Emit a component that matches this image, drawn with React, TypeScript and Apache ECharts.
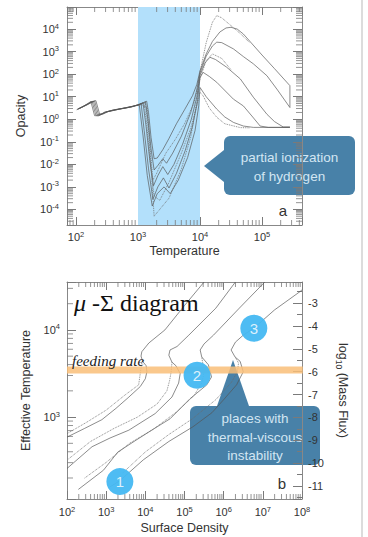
import React, { useEffect, useRef } from 'react';
import * as echarts from 'echarts';

const FONT = '"Liberation Sans", Arial, Helvetica, sans-serif';
const SERIF = '"Liberation Serif", "Times New Roman", serif';

// ---------- Panel a : log10(Temperature), log10(Opacity) ----------
const opacityCurve1 = [
  [2.01, 0.42], [2.1, 0.55], [2.18, 0.68], [2.24, 0.79], [2.3, 0.16], [2.36, 0.15], [2.45, 0.3], [2.6, 0.4], [2.8, 0.5], [3.0, 0.62], [3.08, 0.72], [3.14, 0.8],
  [3.17, 0.3], [3.21, -0.8], [3.26, -1.75], [3.31, -1.72], [3.4, -1.35], [3.5, -0.85], [3.62, -0.2], [3.75, 0.42], [3.88, 1.05], [3.95, 1.55], [4.0, 2.15],
  [4.1, 2.9], [4.2, 3.45], [4.32, 3.87], [4.42, 4.05], [4.5, 4.08], [4.6, 4.0], [4.7, 3.78], [5.0, 2.85], [5.2, 2.25], [5.45, 1.49], [5.45, 0.52],
];
const opacityCurve2 = [
  [2.02, 0.44], [2.12, 0.58], [2.2, 0.7], [2.26, 0.8], [2.32, 0.18], [2.38, 0.17], [2.46, 0.31], [2.6, 0.41], [2.8, 0.51], [3.0, 0.63], [3.08, 0.72], [3.12, 0.78],
  [3.16, 0.0], [3.21, -1.3], [3.26, -2.25], [3.32, -2.05], [3.4, -1.75], [3.46, -1.95], [3.56, -1.5], [3.7, -0.75], [3.85, 0.3], [3.94, 1.2], [4.0, 2.05],
  [4.1, 2.8], [4.2, 3.25], [4.27, 3.42], [4.35, 3.4], [4.54, 3.12], [4.7, 2.78], [4.86, 2.46], [5.08, 1.93], [5.25, 1.3], [5.45, 0.52],
];
const opacityCurve3 = [
  [2.03, 0.45], [2.14, 0.6], [2.22, 0.72], [2.28, 0.81], [2.34, 0.2], [2.4, 0.2], [2.48, 0.32], [2.6, 0.41], [2.8, 0.51], [3.0, 0.63], [3.08, 0.74],
  [3.13, -0.3], [3.19, -1.8], [3.25, -2.95], [3.32, -2.5], [3.4, -2.1], [3.48, -2.45], [3.58, -2.0], [3.72, -1.1], [3.86, 0.0], [3.95, 1.0], [4.0, 1.95],
  [4.08, 2.5], [4.16, 2.75], [4.25, 2.65], [4.43, 2.31], [4.65, 1.79], [4.86, 0.98], [5.08, 0.22], [5.2, -0.1], [5.34, -0.34], [5.45, -0.34],
];
const opacityCurve4 = [
  [2.04, 0.46], [2.16, 0.62], [2.24, 0.74], [2.3, 0.82], [2.36, 0.22], [2.42, 0.22], [2.5, 0.33], [2.7, 0.45], [2.9, 0.55], [3.05, 0.7],
  [3.1, -0.5], [3.17, -2.2], [3.24, -3.55], [3.32, -3.0], [3.41, -2.6], [3.5, -3.05], [3.62, -2.4], [3.76, -1.4], [3.88, -0.3], [3.96, 0.8], [4.0, 1.85],
  [4.05, 2.08], [4.15, 1.9], [4.27, 1.64], [4.54, 0.89], [4.7, 0.59], [4.85, 0.1], [4.97, -0.3], [5.1, -0.36], [5.45, -0.36],
];
const opacityCurve5 = [
  [2.05, 0.47], [2.18, 0.64], [2.26, 0.76], [2.32, 0.83], [2.38, 0.24], [2.44, 0.24], [2.52, 0.34], [2.7, 0.45], [2.9, 0.55], [3.02, 0.66],
  [3.08, -0.7], [3.15, -2.5], [3.23, -3.85], [3.31, -3.3], [3.42, -3.0], [3.52, -3.3], [3.65, -2.7], [3.8, -1.7], [3.92, -0.5], [3.98, 0.6], [4.0, 1.41],
  [4.1, 1.0], [4.27, 0.45], [4.4, 0.1], [4.54, -0.14], [4.7, -0.3], [4.86, -0.36], [5.45, -0.36],
];
const opacityDotted1 = [
  [3.0, 0.6], [3.12, 0.72], [3.17, -0.5], [3.22, -2.5], [3.26, -4.3], [3.35, -4.0], [3.5, -3.5], [3.7, -2.2], [3.85, -0.8], [3.95, 0.8], [4.0, 2.1],
  [4.1, 3.4], [4.2, 4.3], [4.27, 4.6], [4.35, 4.5], [4.48, 4.2], [4.65, 3.8], [4.8, 3.4],
];
const opacityDotted2 = [
  [3.05, 0.65], [3.15, 0.5], [3.19, -1.0], [3.24, -2.7], [3.3, -2.4], [3.45, -1.5], [3.6, -0.9], [3.75, -0.2], [3.9, 0.7], [4.0, 1.8],
  [4.1, 2.6], [4.2, 2.9], [4.35, 2.7], [4.5, 2.2],
];
const opacityDotted3 = [
  [3.1, 0.7], [3.14, -0.2], [3.2, -2.0], [3.26, -3.4], [3.35, -3.6], [3.5, -2.8], [3.7, -1.5], [3.85, -0.4], [3.95, 0.6], [4.0, 1.2],
  [4.05, 1.04], [4.15, 0.5], [4.27, 0.09], [4.4, -0.2], [4.65, -0.37], [4.8, -0.38],
];
const ionizationRange = [3, 4];

// ---------- Panel b : log10(Surface Density), log10(Teff) ----------
const sCurveA = [
  [2.0, 2.77], [2.45, 2.87], [2.89, 2.97], [3.25, 3.1], [3.58, 3.23], [3.87, 3.35], [4.0, 3.44], [4.04, 3.52], [4.02, 3.59], [3.93, 3.64], [3.89, 3.7], [3.91, 3.75],
  [4.09, 3.85], [4.5, 4.0], [5.0, 4.28], [5.5, 4.55],
];
const sCurveADotted = [[2.0, 2.81], [2.5, 2.94], [3.0, 3.08], [3.5, 3.26], [3.83, 3.37], [3.87, 3.5], [3.91, 3.62]];
const sCurveB = [
  [2.0, 2.41], [2.64, 2.66], [3.1, 2.76], [3.58, 2.85], [4.25, 3.04], [4.68, 3.23], [4.85, 3.39], [4.89, 3.5], [4.78, 3.59], [4.68, 3.63], [4.6, 3.71], [4.63, 3.77],
  [4.81, 3.81], [5.11, 3.94], [5.8, 4.25], [6.3, 4.55],
];
const sCurveBDotted = [[2.04, 2.52], [2.6, 2.72], [3.2, 2.87], [3.8, 3.0], [4.3, 3.15], [4.55, 3.3], [4.62, 3.42], [4.66, 3.52], [4.68, 3.63]];
const sCurveC = [
  [2.29, 2.17], [2.93, 2.39], [3.3, 2.6], [3.78, 2.74], [4.2, 2.86], [4.63, 2.98], [5.14, 3.21], [5.57, 3.37], [5.69, 3.46], [5.61, 3.6], [5.44, 3.69], [5.4, 3.77],
  [5.5, 3.84], [5.74, 3.94], [6.4, 4.25], [7.05, 4.55],
];
const sCurveCDotted = [[2.45, 2.3], [3.0, 2.48], [3.6, 2.7], [4.2, 2.86], [4.8, 3.06], [5.25, 3.25], [5.45, 3.4], [5.5, 3.52], [5.44, 3.69]];
const sCurveD = [
  [3.1, 2.2], [3.35, 2.27], [3.95, 2.51], [4.6, 2.72], [5.22, 2.89], [5.7, 3.05], [6.0, 3.2], [6.33, 3.37], [6.5, 3.52], [6.42, 3.64], [6.29, 3.69], [6.19, 3.77],
  [6.3, 3.86], [6.5, 3.94], [6.77, 4.02], [7.3, 4.23], [7.95, 4.44], [8.0, 4.46],
];
const sCurveDDotted = [[3.4, 2.35], [4.0, 2.6], [4.6, 2.8], [5.2, 2.98], [5.8, 3.2], [6.2, 3.4], [6.35, 3.52], [6.38, 3.62], [6.29, 3.69]];
const feedingRateMassFlux = -5.93;
const markerPoints = [[3.35, 2.26, '1'], [5.32, 3.48, '2'], [6.77, 4.02, '3']];

// axis extents (log10 units)
const aX = [1.855, 5.645];
const aY = [-4.69, 4.98];
const bX = [2, 8];
const bY = [2.06, 4.55];
const bFlux = [-11.57, -2.08];

const logMinor = (lo: number, hi: number) => {
  const out: number[] = [];
  for (let n = Math.floor(lo); n <= Math.ceil(hi); n++)
    for (let k = 2; k <= 9; k++) {
      const v = n + Math.log10(k);
      if (v > lo + 0.005 && v < hi - 0.005) out.push(v);
    }
  return out;
};

const TICK = '#7a7a7a';

function tickSeries(xi: number, yi: number, dir: 'x' | 'y', values: number[], anchor: number, len: number, sides: string[]) {
  return {
    type: 'custom',
    xAxisIndex: xi,
    yAxisIndex: yi,
    silent: true,
    z: 2,
    data: values.map((v) => (dir === 'x' ? [v, anchor] : [anchor, v])),
    renderItem: (params: any, api: any) => {
      const cs = params.coordSys;
      const p = api.coord([api.value(0), api.value(1)]);
      const children: any[] = [];
      const st = { stroke: TICK, lineWidth: 0.8 };
      sides.forEach((s) => {
        if (s === 'bottom') children.push({ type: 'line', shape: { x1: p[0], y1: cs.y + cs.height, x2: p[0], y2: cs.y + cs.height - len }, style: st });
        if (s === 'top') children.push({ type: 'line', shape: { x1: p[0], y1: cs.y, x2: p[0], y2: cs.y + len }, style: st });
        if (s === 'left') children.push({ type: 'line', shape: { x1: cs.x, y1: p[1], x2: cs.x + len, y2: p[1] }, style: st });
        if (s === 'right') children.push({ type: 'line', shape: { x1: cs.x + cs.width, y1: p[1], x2: cs.x + cs.width - len, y2: p[1] }, style: st });
      });
      return { type: 'group', children };
    },
  };
}

const isInt = (v: number) => Math.abs(v - Math.round(v)) < 1e-6;
const powLabel = (v: number) => (isInt(v) ? `{b|10}{s|${Math.round(v)}}` : '');
const powRich = {
  b: { fontSize: 11, color: '#333', fontFamily: FONT, lineHeight: 14 },
  s: { fontSize: 7.5, color: '#333', fontFamily: FONT, lineHeight: 6, verticalAlign: 'top' },
};
const axisLine = { show: true, onZero: false, lineStyle: { color: '#888', width: 1 } };
const nameStyle = { fontSize: 12.5, color: '#333', fontFamily: FONT };

function curve(data: number[][], xi: number, yi: number, dotted = false) {
  return {
    type: 'line',
    xAxisIndex: xi,
    yAxisIndex: yi,
    data,
    symbol: 'none',
    silent: true,
    z: 3,
    lineStyle: dotted
      ? { color: '#6a6a6a', width: 0.9, type: 'dotted', opacity: 0.9 }
      : { color: '#555', width: 0.8, opacity: 0.85 },
  };
}

export default function App() {
  const ref = useRef<HTMLDivElement>(null);
  useEffect(() => {
    if (!ref.current) return;
    const chart = echarts.init(ref.current, undefined, { renderer: 'svg' });
    const option: any = {
      animation: false,
      backgroundColor: '#ffffff',
      grid: [
        { left: 67, top: 7, width: 235, height: 218 },
        { left: 67, top: 282, width: 235, height: 217 },
      ],
      xAxis: [
        {
          gridIndex: 0, type: 'value', min: aX[0], max: aX[1], splitNumber: 4, position: 'bottom',
          axisLine, splitLine: { show: false },
          axisTick: { inside: true, length: 8, lineStyle: { color: TICK } },
          axisLabel: { formatter: powLabel, rich: powRich, margin: 5 },
          name: 'Temperature', nameLocation: 'middle', nameGap: 19, nameTextStyle: nameStyle,
        },
        {
          gridIndex: 0, type: 'value', min: aX[0], max: aX[1], splitNumber: 4, position: 'top',
          axisLine, splitLine: { show: false },
          axisTick: { inside: true, length: 8, lineStyle: { color: TICK } },
          axisLabel: { show: false },
        },
        {
          gridIndex: 1, type: 'value', min: bX[0], max: bX[1], interval: 1, position: 'bottom',
          axisLine, splitLine: { show: false },
          axisTick: { inside: true, length: 8, lineStyle: { color: TICK } },
          axisLabel: { formatter: powLabel, rich: powRich, margin: 6 },
          name: 'Surface Density', nameLocation: 'middle', nameGap: 22, nameTextStyle: nameStyle,
        },
        {
          gridIndex: 1, type: 'value', min: bX[0], max: bX[1], interval: 1, position: 'top',
          axisLine, splitLine: { show: false },
          axisTick: { inside: true, length: 8, lineStyle: { color: TICK } },
          axisLabel: { show: false },
        },
      ],
      yAxis: [
        {
          gridIndex: 0, type: 'value', min: aY[0], max: aY[1], splitNumber: 10, position: 'left',
          axisLine, splitLine: { show: false },
          axisTick: { inside: true, length: 9, lineStyle: { color: TICK } },
          axisLabel: { formatter: powLabel, rich: powRich, margin: 8 },
          name: 'Opacity', nameLocation: 'middle', nameGap: 40, nameTextStyle: nameStyle,
        },
        {
          gridIndex: 0, type: 'value', min: aY[0], max: aY[1], splitNumber: 10, position: 'right',
          axisLine, splitLine: { show: false },
          axisTick: { inside: true, length: 9, lineStyle: { color: TICK } },
          axisLabel: { show: false },
        },
        {
          gridIndex: 1, type: 'value', min: bY[0], max: bY[1], splitNumber: 3, position: 'left',
          axisLine, splitLine: { show: false },
          axisTick: { inside: true, length: 9, lineStyle: { color: TICK } },
          axisLabel: { formatter: powLabel, rich: powRich, margin: 7 },
          name: 'Effective Temperature', nameLocation: 'middle', nameGap: 28, nameTextStyle: nameStyle,
        },
        {
          gridIndex: 1, type: 'value', min: bFlux[0], max: bFlux[1], splitNumber: 9, position: 'right',
          axisLine, splitLine: { show: false },
          axisTick: { inside: true, length: 9, lineStyle: { color: TICK } },
          minorTick: { show: true, splitNumber: 2, length: 5, lineStyle: { color: TICK } },
          axisLabel: {
            formatter: (v: number) => (isInt(v) ? String(Math.round(v)) : ''),
            fontSize: 11, color: '#333', fontFamily: FONT, margin: 6,
          },
          name: '{a|log}{b|10}{a| (Mass Flux)}', nameLocation: 'middle', nameGap: 30, nameRotate: -90,
          nameTextStyle: {
            ...nameStyle,
            rich: {
              a: { fontSize: 12.5, color: '#333', fontFamily: FONT, lineHeight: 16 },
              b: { fontSize: 8.5, color: '#333', fontFamily: FONT, lineHeight: 8, verticalAlign: 'bottom' },
            },
          },
        },
      ],
      series: [
        {
          type: 'line', xAxisIndex: 0, yAxisIndex: 0, data: [], silent: true, z: 1,
          markArea: {
            silent: true,
            itemStyle: { color: '#b3e0fb', opacity: 1 },
            data: [[{ xAxis: ionizationRange[0] }, { xAxis: ionizationRange[1] }]],
          },
        },
        tickSeries(0, 0, 'x', logMinor(aX[0], aX[1]), 0, 5, ['bottom', 'top']),
        tickSeries(0, 0, 'y', logMinor(aY[0], aY[1]), 3, 6, ['left', 'right']),
        tickSeries(2, 2, 'x', logMinor(bX[0], bX[1]), 3, 5, ['bottom', 'top']),
        tickSeries(2, 2, 'y', logMinor(bY[0], bY[1]), 3, 6, ['left']),
        curve(opacityCurve1, 0, 0),
        curve(opacityCurve2, 0, 0),
        curve(opacityCurve3, 0, 0),
        curve(opacityCurve4, 0, 0),
        curve(opacityCurve5, 0, 0),
        curve(opacityDotted1, 0, 0, true),
        curve(opacityDotted2, 0, 0, true),
        curve(opacityDotted3, 0, 0, true),
        curve(sCurveA, 2, 2),
        curve(sCurveADotted, 2, 2, true),
        curve(sCurveB, 2, 2),
        curve(sCurveBDotted, 2, 2, true),
        curve(sCurveC, 2, 2),
        curve(sCurveCDotted, 2, 2, true),
        curve(sCurveD, 2, 2),
        curve(sCurveDDotted, 2, 2, true),
        {
          type: 'line', xAxisIndex: 2, yAxisIndex: 3, symbol: 'none', silent: true, z: 5, clip: false,
          data: [[bX[0], feedingRateMassFlux], [bX[1] + 0.02, feedingRateMassFlux]],
          lineStyle: { color: '#f9be78', width: 7, opacity: 0.85 },
        },
        {
          type: 'scatter', xAxisIndex: 2, yAxisIndex: 2, silent: true, z: 7,
          data: markerPoints,
          symbolSize: 27,
          itemStyle: { color: '#45b8f2', opacity: 0.95 },
          label: {
            show: true, position: 'inside', formatter: (p: any) => p.data[2],
            color: '#e6f5fd', fontSize: 15, fontFamily: FONT,
          },
        },
      ],
      graphic: [
        { type: 'line', z: 1, shape: { x1: 362, y1: 0, x2: 362, y2: 537 }, style: { stroke: '#d0d0d0', lineWidth: 1.5 } },
        { type: 'text', z: 8, x: 283, y: 210, style: { text: 'a', fontSize: 15, fill: '#333', fontFamily: FONT, align: 'center', verticalAlign: 'middle', textAlign: 'center', textVerticalAlign: 'middle' } },
        { type: 'text', z: 8, x: 282, y: 483, style: { text: 'b', fontSize: 15, fill: '#333', fontFamily: FONT, align: 'center', verticalAlign: 'middle', textAlign: 'center', textVerticalAlign: 'middle' } },
        {
          type: 'text', z: 8, x: 74, y: 303,
          style: {
            text: '{i|μ} -Σ diagram', fontSize: 24, fill: '#111', fontFamily: SERIF, verticalAlign: 'middle', textVerticalAlign: 'middle',
            rich: { i: { fontSize: 24, fontStyle: 'italic', fontFamily: SERIF, fill: '#111', color: '#111' } },
          },
        },
        { type: 'text', z: 8, x: 72, y: 361, style: { text: 'feeding rate', fontSize: 15, fontStyle: 'italic', fill: '#222', fontFamily: SERIF, verticalAlign: 'middle', textVerticalAlign: 'middle' } },
        {
          type: 'group', z: 10,
          children: [
            { type: 'rect', shape: { x: 224, y: 136, width: 131, height: 59, r: 6 }, style: { fill: '#2f6f9c', opacity: 0.88 } },
            { type: 'polygon', shape: { points: [[204, 166], [224, 150], [224, 182]] }, style: { fill: '#2f6f9c', opacity: 0.88 } },
            { type: 'text', x: 289.5, y: 157, style: { text: 'partial ionization', fontSize: 13.5, fill: '#d3e6f3', fontFamily: FONT, align: 'center', verticalAlign: 'middle', textAlign: 'center', textVerticalAlign: 'middle' } },
            { type: 'text', x: 289.5, y: 176, style: { text: 'of hydrogen', fontSize: 13.5, fill: '#d3e6f3', fontFamily: FONT, align: 'center', verticalAlign: 'middle', textAlign: 'center', textVerticalAlign: 'middle' } },
          ],
        },
        {
          type: 'group', z: 10,
          children: [
            { type: 'rect', shape: { x: 190, y: 406, width: 130, height: 59, r: 6 }, style: { fill: '#2f6f9c', opacity: 0.88 } },
            { type: 'polygon', shape: { points: [[233, 360], [217, 406], [249, 406]] }, style: { fill: '#2f6f9c', opacity: 0.88 } },
            { type: 'text', x: 255, y: 418, style: { text: 'places with', fontSize: 13.5, fill: '#d3e6f3', fontFamily: FONT, align: 'center', verticalAlign: 'middle', textAlign: 'center', textVerticalAlign: 'middle' } },
            { type: 'text', x: 255, y: 437, style: { text: 'thermal-viscous', fontSize: 13.5, fill: '#d3e6f3', fontFamily: FONT, align: 'center', verticalAlign: 'middle', textAlign: 'center', textVerticalAlign: 'middle' } },
            { type: 'text', x: 255, y: 455, style: { text: 'instability', fontSize: 13.5, fill: '#d3e6f3', fontFamily: FONT, align: 'center', verticalAlign: 'middle', textAlign: 'center', textVerticalAlign: 'middle' } },
          ],
        },
      ],
    };
    chart.setOption(option);
    return () => chart.dispose();
  }, []);
  return <div ref={ref} style={{ position: 'fixed', left: 0, top: 0, width: 368, height: 537 }} />;
}
